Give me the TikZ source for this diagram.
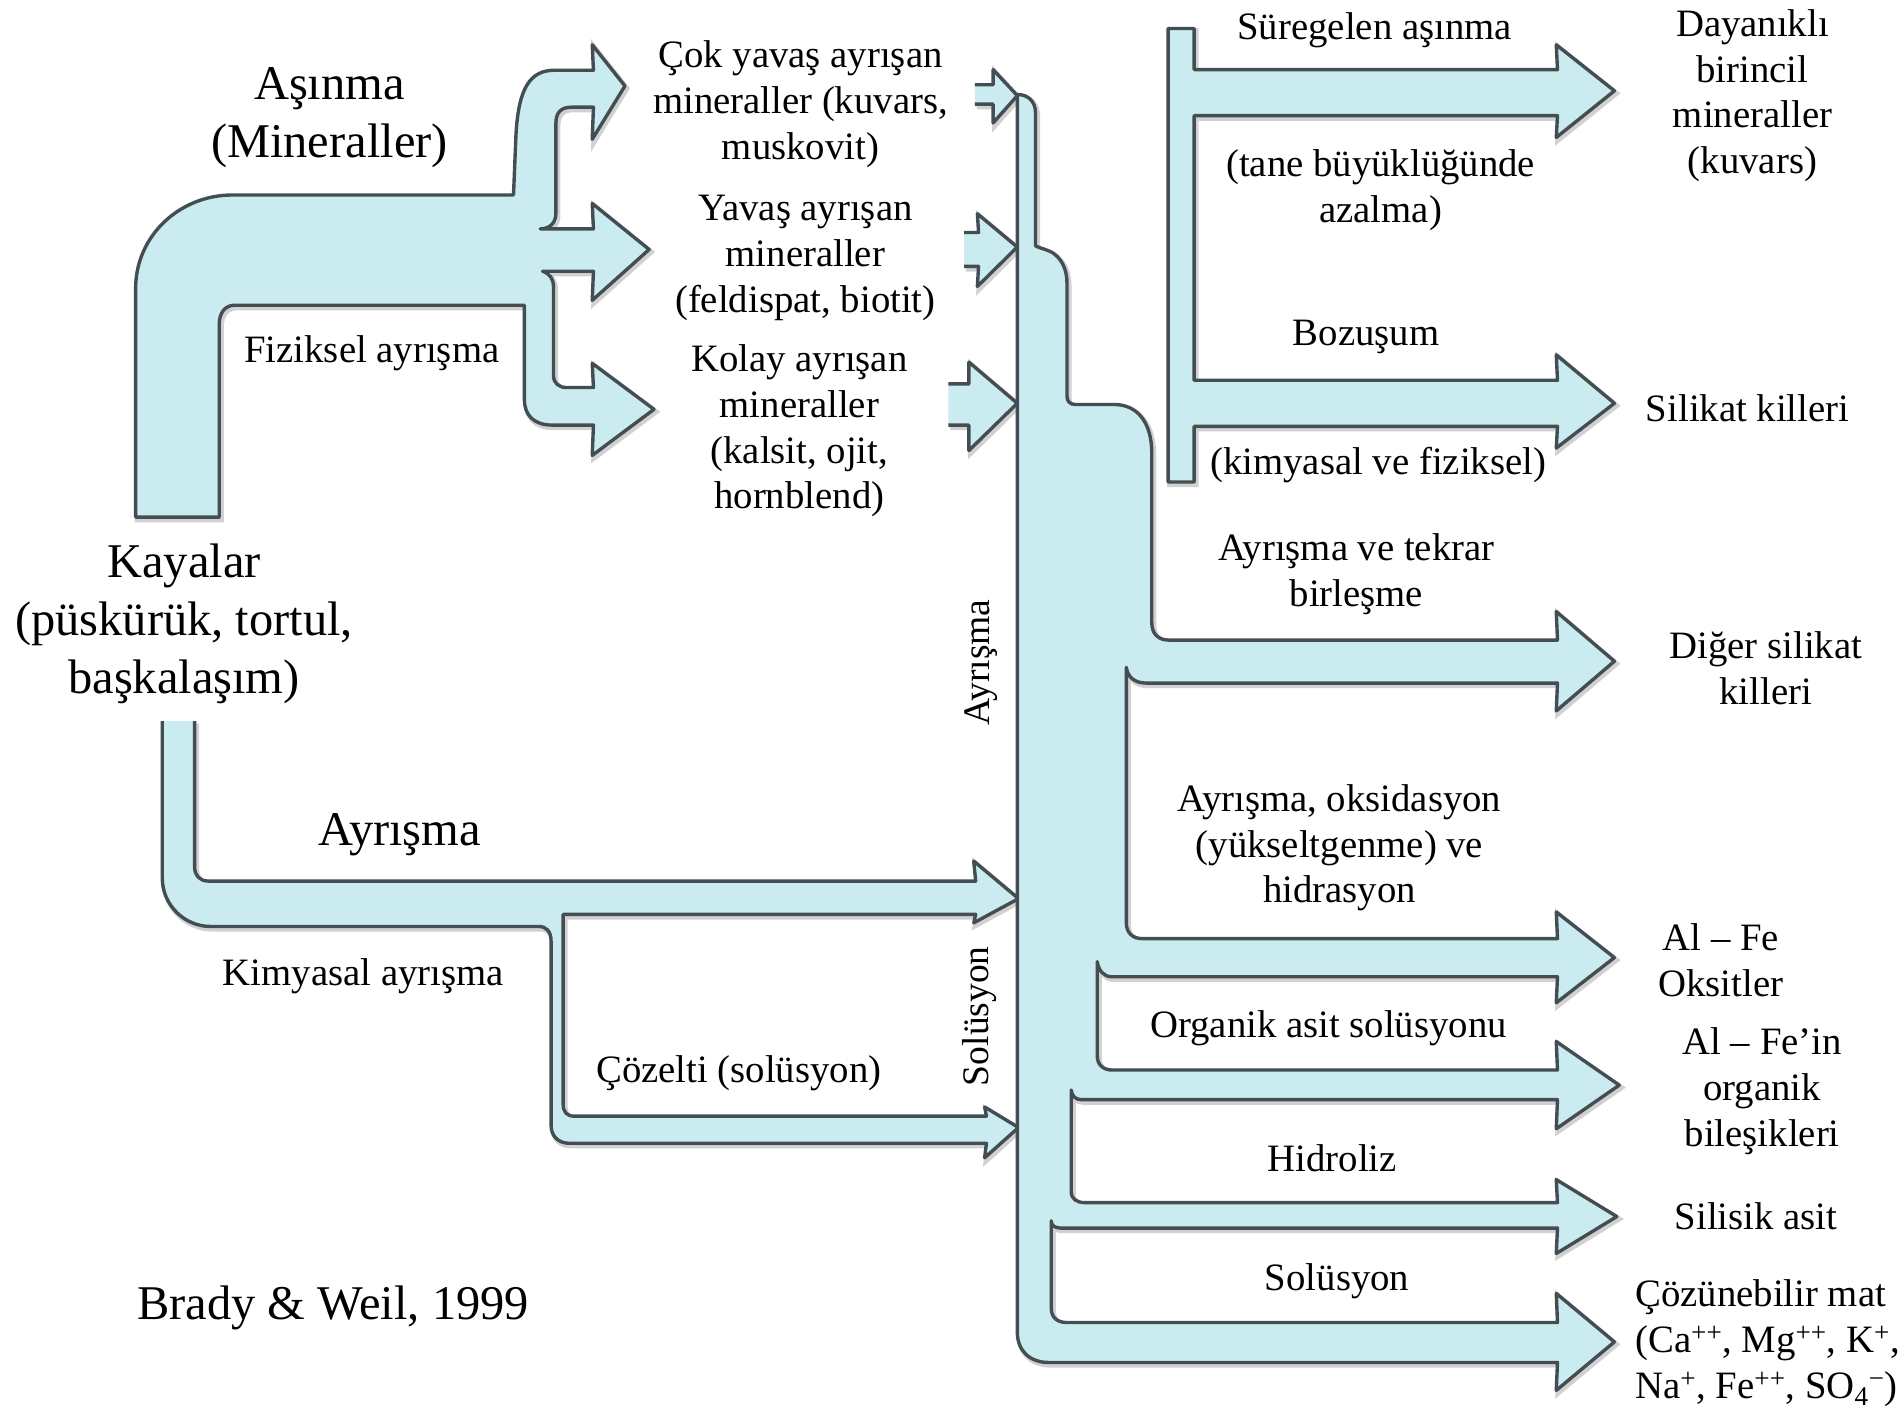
\documentclass[tikz,border=0pt]{standalone}
\usepackage{fontspec}
\setmainfont{Liberation Serif}
\definecolor{flowfill}{RGB}{202,235,240}
\definecolor{flowline}{RGB}{68,78,82}
\tikzset{
  flow/.style={fill=flowfill, draw=flowline, line width=2.8pt, line join=round,
    preaction={draw=black!45, line width=4.5pt, opacity=0.4, transform canvas={shift={(1.5pt,-2pt)}}}},
  lbl/.style={align=center, inner sep=0pt, font=\fontsize{32}{37.7}\selectfont},
  biglbl/.style={align=center, inner sep=0pt, font=\fontsize{40}{48}\selectfont},
  vlbl/.style={inner sep=0pt, rotate=90, font=\fontsize{31}{36}\selectfont}
}
\begin{document}
\begin{tikzpicture}[x=1pt,y=-1pt]
\useasboundingbox (0,0) rectangle (1568,1166);

% ---- top-left bent arrow (Asinma) ----
\path[flow] (181,427) -- (112,427) -- (112,238) .. controls (112,195) and (148,161) .. (192,161)
  -- (424,161) -- (426,112) .. controls (428,72) and (438,58) .. (458,58)
  -- (490,58) -- (489,37) -- (516,71) -- (489,115) -- (490,88.5)
  -- (472,88.5) .. controls (463,88.5) and (459,93) .. (459,102)
  -- (459,176) .. controls (459,184) and (454,189) .. (446,189)
  -- (490,189) -- (489,168) -- (536,206) -- (489,248) -- (490,224)
  -- (448,224) .. controls (454,226) and (457,230) .. (457,237)
  -- (457,310) .. controls (457,316) and (461,320) .. (468,320)
  -- (490,320) -- (489,300) -- (540,338) -- (489,376) -- (490,351)
  -- (456,351) .. controls (441,351) and (433,343) .. (433,330)
  -- (433,252) -- (194,252) .. controls (186,252) and (181,258) .. (181,268) -- cycle;

% ---- lower-left bent arrow (Ayrisma / Cozelti), open top ----
\path[flow] (134,595.5) -- (134,725) .. controls (134,747) and (152,765) .. (174,765)
  -- (445,765) .. controls (451,765) and (455,769) .. (455,777)
  -- (455,929) .. controls (455,938) and (461,944) .. (470,944)
  -- (814.5,944) -- (813,956) -- (841,931) -- (813,914) -- (814.5,921.6)
  -- (474,921.6) .. controls (468,921.6) and (465,918) .. (465,912)
  -- (465,755) -- (805.6,755) -- (804,762) -- (841,742) -- (804,711) -- (805.6,727.5)
  -- (172,727.5) .. controls (165,727.5) and (160.7,723) .. (160.7,716) -- (160.7,595.5);

% ---- small arrival arrows (open left ends) ----
\path[flow] (805,86) -- (820,86) -- (820,101.5) -- (840,79) -- (820,57.5) -- (820,70) -- (805,70);
\path[flow] (796,220) -- (808,220) -- (807,236.5) -- (840,204) -- (807,176.5) -- (808,192) -- (796,192);
\path[flow] (783,351) -- (800,351) -- (800,372) -- (840,333) -- (800,299) -- (800,317) -- (783,317);

% ---- main column with right arrows ----
\path[flow] (840,78) .. controls (849,78) and (855,84) .. (855,93)
  -- (855,203) .. controls (858,205) and (866,206) .. (871,210) .. controls (878,216) and (881,224) .. (881,234)
  -- (881,327) .. controls (881,331) and (883,334) .. (888,334)
  -- (920,334) .. controls (940,334) and (951,350) .. (951,374)
  -- (951,514) .. controls (951,523) and (956,528.5) .. (965,528.5)
  -- (1286,528.5) -- (1285,505) -- (1333,546) -- (1285,587) -- (1286,564)
  -- (946,564) .. controls (937,564) and (931,559) .. (930,551)
  -- (930,762) .. controls (930,770) and (935,775) .. (943,775)
  -- (1286,775) -- (1285,753) -- (1333,790.7) -- (1285,828) -- (1286,806.5)
  -- (918,806.5) .. controls (911,806.5) and (907,801) .. (906,794)
  -- (906,872) .. controls (906,879) and (911,883.5) .. (918,883.5)
  -- (1286,883.5) -- (1285,860) -- (1337,896) -- (1285,932) -- (1286,908)
  -- (893,908) .. controls (888,908) and (885,905) .. (884.5,900)
  -- (884.5,984) .. controls (884.5,990) and (889,993) .. (896,993)
  -- (1286,993) -- (1285,974) -- (1335,1004.5) -- (1285,1035) -- (1286,1014)
  -- (876,1014) .. controls (871,1014) and (868,1012) .. (868,1008)
  -- (868,1080) .. controls (868,1088) and (873,1092) .. (881,1092)
  -- (1286,1092) -- (1285,1068) -- (1333,1108) -- (1285,1148) -- (1286,1125)
  -- (866,1125) .. controls (850,1125) and (840,1115) .. (840,1100) -- cycle;

% ---- T shape top right ----
\path[flow] (964.5,23.5) -- (986,23.5) -- (986,57.5) -- (1286,57.5) -- (1285,37) -- (1333,75)
  -- (1285,113.5) -- (1286,95.5) -- (986,95.5) -- (986,314) -- (1286,314) -- (1285,293)
  -- (1333,333) -- (1285,370) -- (1286,352) -- (986,352) -- (986,398) -- (964.5,398) -- cycle;

% ---- labels ----
\node[biglbl] (asinma) at (272,97) {Aşınma\\(Mineraller)};
\node[lbl] (fiziksel) at (307,292) {Fiziksel ayrışma};
\node[lbl] (cok) at (661,86) {Çok yavaş ayrışan\\mineraller (kuvars,\\muskovit)};
\node[lbl] (yavas) at (665,213) {Yavaş ayrışan\\mineraller\\(feldispat, biotit)};
\node[lbl] (kolay) at (660,356) {Kolay ayrışan\\mineraller\\(kalsit, ojit,\\hornblend)};
\node[biglbl] (kayalar) at (152,515) {Kayalar\\(püskürük, tortul,\\başkalaşım)};
\node[biglbl] (ayrisma) at (330,689) {Ayrışma};
\node[lbl] (kimyasal) at (300,806) {Kimyasal ayrışma};
\node[lbl] (cozelti) at (610,886) {Çözelti (solüsyon)};
\node[biglbl] (brady) at (275,1080) {Brady \& Weil, 1999};
\node[vlbl] (vayrisma) at (810,547) {Ayrışma};
\node[vlbl] (vsolusyon) at (809,839) {Solüsyon};

\node[lbl] (suregelen) at (1135,25) {Süregelen aşınma};
\node[lbl] (tane) at (1140,157) {(tane büyüklüğünde\\azalma)};
\node[lbl] (bozusum) at (1128,278) {Bozuşum};
\node[lbl] (kimfiz) at (1138,384) {(kimyasal ve fiziksel)};
\node[lbl] (dayanikli) at (1447,79) {Dayanıklı\\birincil\\mineraller\\(kuvars)};
\node[lbl] (silikat) at (1443,337) {Silikat killeri};
\node[lbl] (tekrar) at (1120,474) {Ayrışma ve tekrar\\birleşme};
\node[lbl] (diger) at (1458,552) {Diğer silikat\\killeri};
\node[lbl] (oksid) at (1106,700) {Ayrışma, oksidasyon\\(yükseltgenme) ve\\hidrasyon};
\node[lbl] (alfeoks) at (1421,793) {Al – Fe\\Oksitler};
\node[lbl] (organik) at (1097,849) {Organik asit solüsyonu};
\node[lbl] (alfeorg) at (1455,901) {Al – Fe’in\\organik\\bileşikleri};
\node[lbl] (hidroliz) at (1100,956) {Hidroliz};
\node[lbl] (silisik) at (1450,1004) {Silisik asit};
\node[lbl] (solusyon) at (1104,1058) {Solüsyon};
\node[lbl, align=left, anchor=west] (cozunebilir) at (1350,1109)
  {Çözünebilir mat\\(Ca\textsuperscript{++}, Mg\textsuperscript{++}, K\textsuperscript{+},\\Na\textsuperscript{+}, Fe\textsuperscript{++}, SO\textsubscript{4}\textsuperscript{−})};
\end{tikzpicture}
\end{document}
